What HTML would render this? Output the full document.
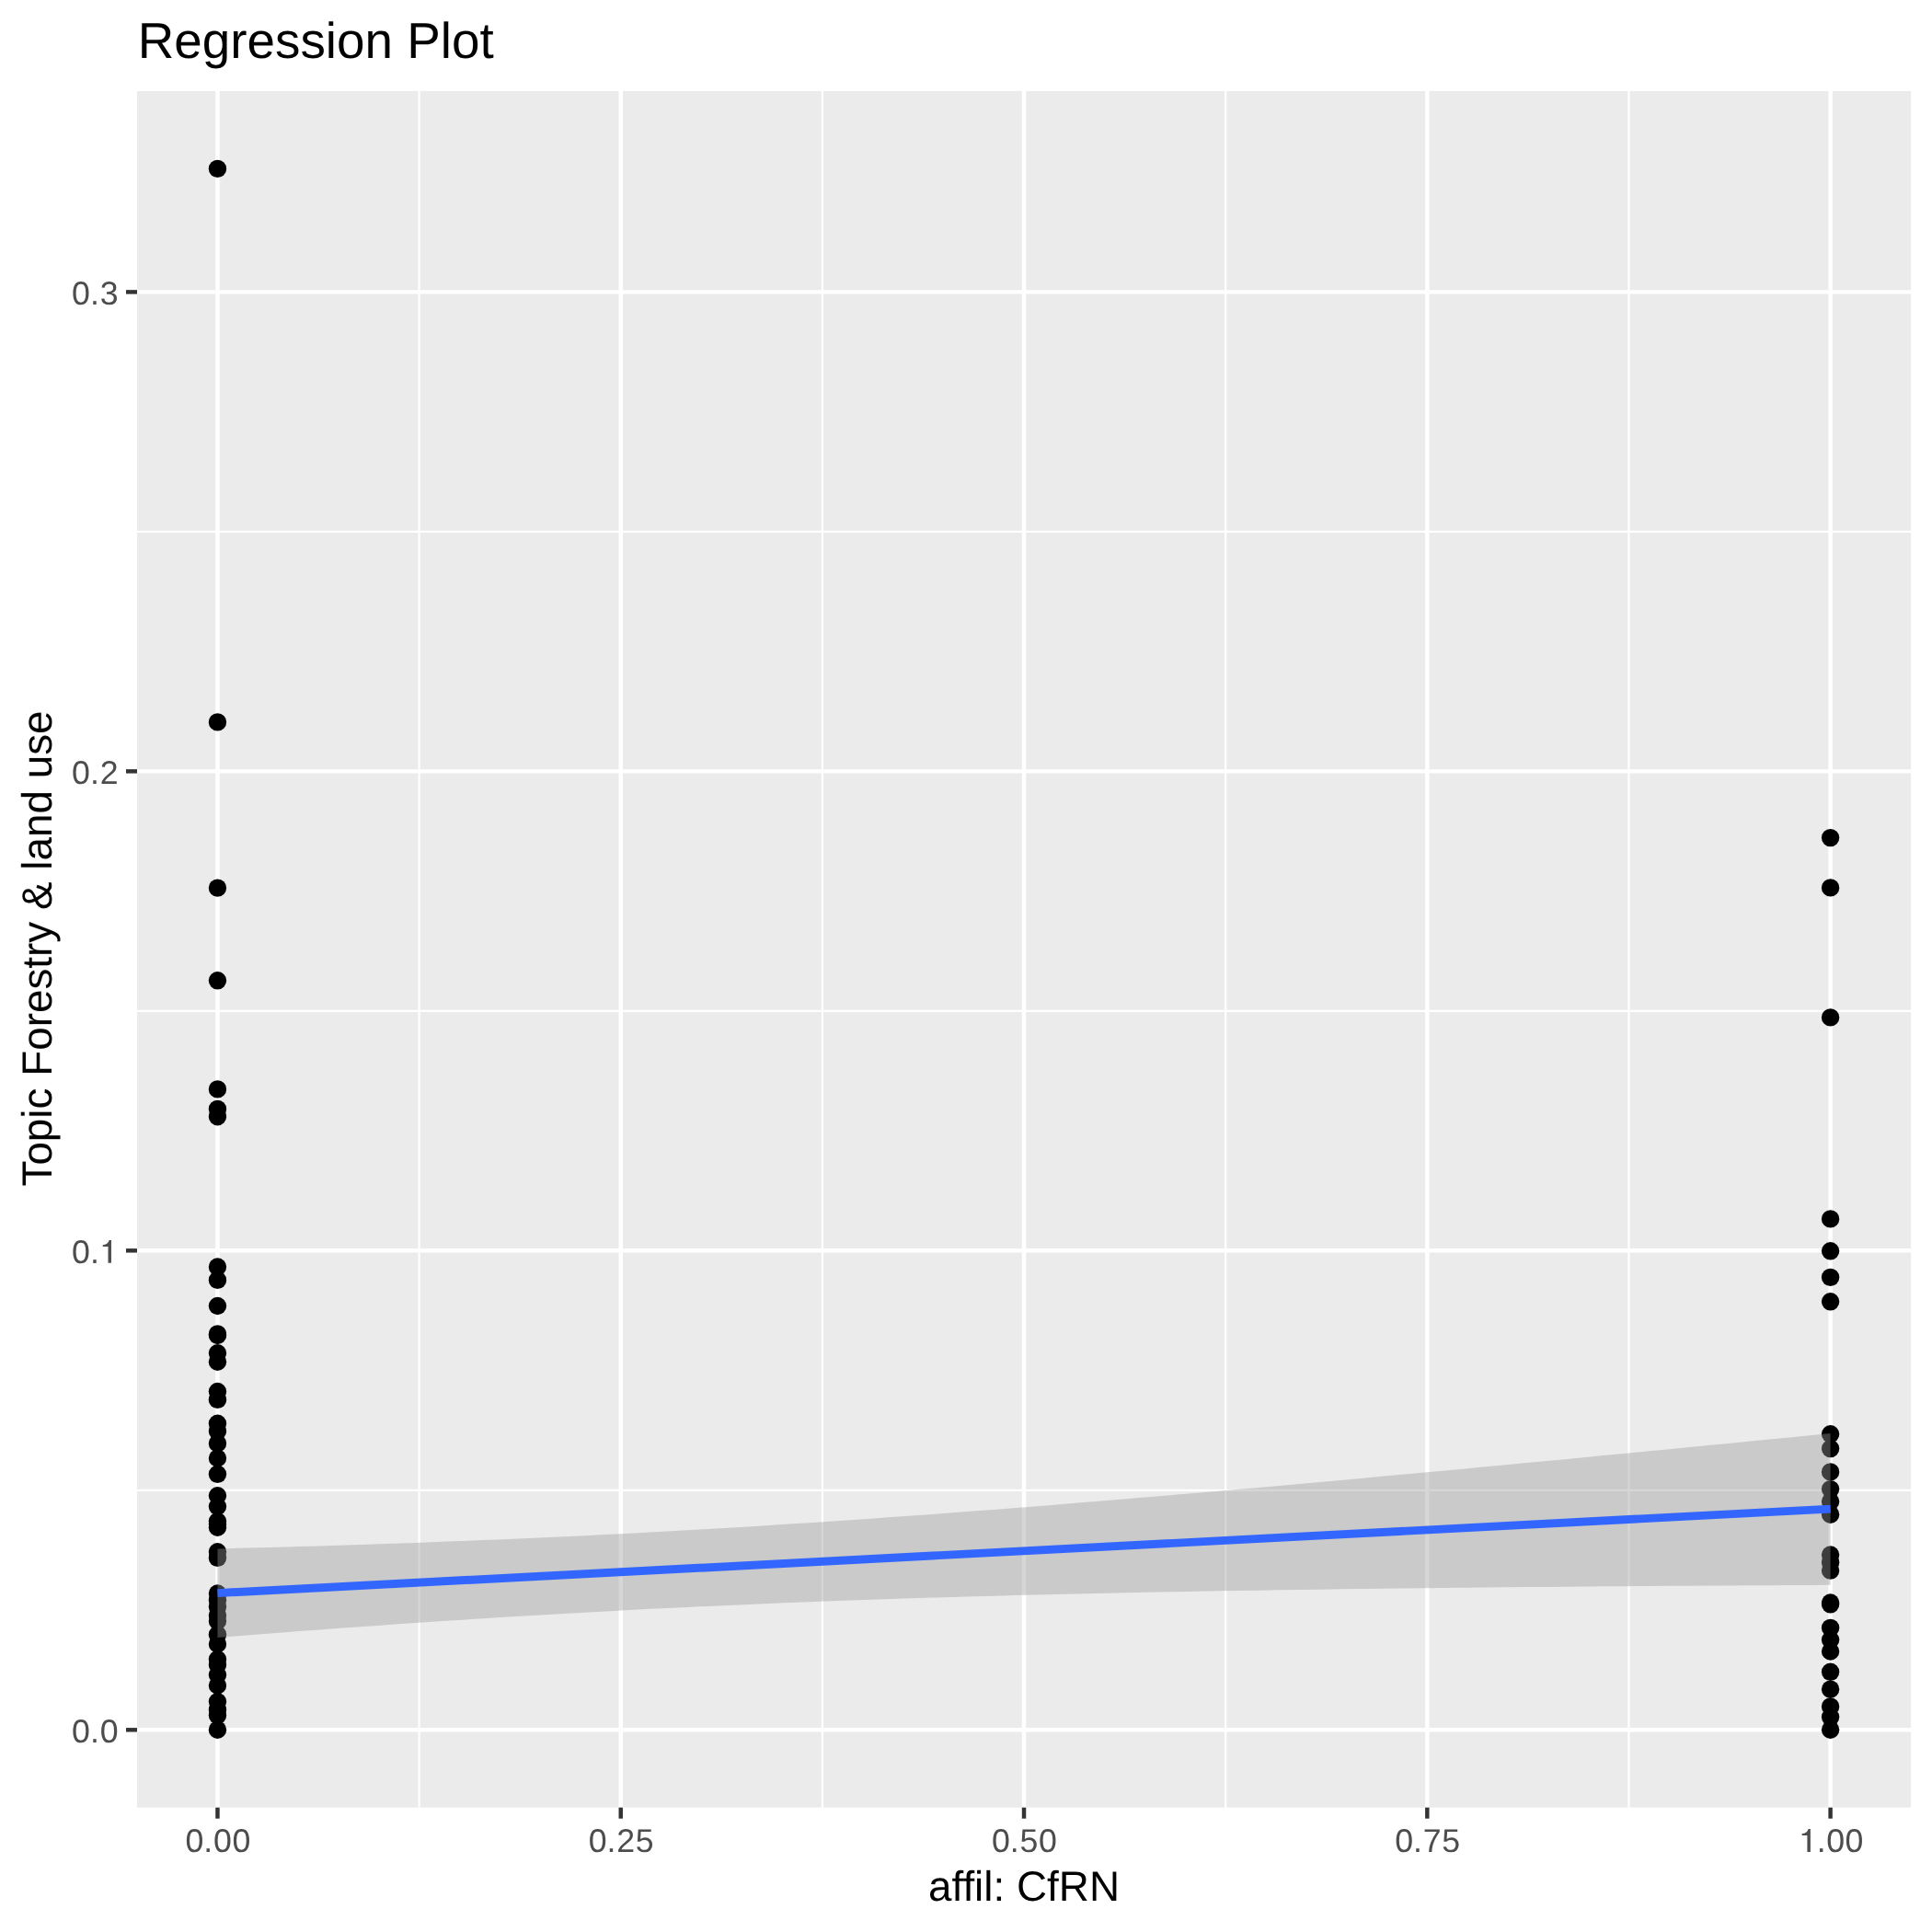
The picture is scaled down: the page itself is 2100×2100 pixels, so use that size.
<!DOCTYPE html>
<html><head><meta charset="utf-8"><title>Regression Plot</title>
<style>
html,body{margin:0;padding:0;background:#fff;}
body{width:2100px;height:2100px;overflow:hidden;}
svg{display:block;}
text{font-family:"Liberation Sans",sans-serif;text-rendering:geometricPrecision;}
.at{font-size:35.7px;fill:#4D4D4D;}
.ti{font-size:45.83px;fill:#000;}
</style></head><body>
<svg width="2100" height="2100" viewBox="0 0 2100 2100">
<rect x="0" y="0" width="2100" height="2100" fill="#FFFFFF"/>
<rect x="149.0" y="99.0" width="1928.10" height="1865.70" fill="#EBEBEB"/>
<g stroke="#FFFFFF" fill="none">
<line x1="149.0" x2="2077.1" y1="1619.82" y2="1619.82" stroke-width="2.22"/>
<line x1="149.0" x2="2077.1" y1="1098.85" y2="1098.85" stroke-width="2.22"/>
<line x1="149.0" x2="2077.1" y1="577.88" y2="577.88" stroke-width="2.22"/>
<line y1="99.0" y2="1964.7" x1="455.59" x2="455.59" stroke-width="2.22"/>
<line y1="99.0" y2="1964.7" x1="893.88" x2="893.88" stroke-width="2.22"/>
<line y1="99.0" y2="1964.7" x1="1332.17" x2="1332.17" stroke-width="2.22"/>
<line y1="99.0" y2="1964.7" x1="1770.46" x2="1770.46" stroke-width="2.22"/>
<line x1="149.0" x2="2077.1" y1="1880.30" y2="1880.30" stroke-width="4.45"/>
<line x1="149.0" x2="2077.1" y1="1359.33" y2="1359.33" stroke-width="4.45"/>
<line x1="149.0" x2="2077.1" y1="838.36" y2="838.36" stroke-width="4.45"/>
<line x1="149.0" x2="2077.1" y1="317.39" y2="317.39" stroke-width="4.45"/>
<line y1="99.0" y2="1964.7" x1="236.45" x2="236.45" stroke-width="4.45"/>
<line y1="99.0" y2="1964.7" x1="674.74" x2="674.74" stroke-width="4.45"/>
<line y1="99.0" y2="1964.7" x1="1113.02" x2="1113.02" stroke-width="4.45"/>
<line y1="99.0" y2="1964.7" x1="1551.31" x2="1551.31" stroke-width="4.45"/>
<line y1="99.0" y2="1964.7" x1="1989.60" x2="1989.60" stroke-width="4.45"/>
</g>
<g fill="#000000">
<circle cx="236.45" cy="183.4" r="9.7"/>
<circle cx="236.45" cy="784.9" r="9.7"/>
<circle cx="236.45" cy="965.1" r="9.7"/>
<circle cx="236.45" cy="1065.8" r="9.7"/>
<circle cx="236.45" cy="1183.9" r="9.7"/>
<circle cx="236.45" cy="1205.4" r="9.7"/>
<circle cx="236.45" cy="1213.7" r="9.7"/>
<circle cx="236.45" cy="1377.0" r="9.7"/>
<circle cx="236.45" cy="1391.4" r="9.7"/>
<circle cx="236.45" cy="1419.5" r="9.7"/>
<circle cx="236.45" cy="1449.9" r="9.7"/>
<circle cx="236.45" cy="1451.5" r="9.7"/>
<circle cx="236.45" cy="1470.8" r="9.7"/>
<circle cx="236.45" cy="1480.2" r="9.7"/>
<circle cx="236.45" cy="1512.5" r="9.7"/>
<circle cx="236.45" cy="1521.3" r="9.7"/>
<circle cx="236.45" cy="1547.3" r="9.7"/>
<circle cx="236.45" cy="1555.7" r="9.7"/>
<circle cx="236.45" cy="1568.9" r="9.7"/>
<circle cx="236.45" cy="1585.0" r="9.7"/>
<circle cx="236.45" cy="1602.3" r="9.7"/>
<circle cx="236.45" cy="1625.8" r="9.7"/>
<circle cx="236.45" cy="1637.5" r="9.7"/>
<circle cx="236.45" cy="1653.5" r="9.7"/>
<circle cx="236.45" cy="1656.8" r="9.7"/>
<circle cx="236.45" cy="1660.2" r="9.7"/>
<circle cx="236.45" cy="1686.8" r="9.7"/>
<circle cx="236.45" cy="1693.3" r="9.7"/>
<circle cx="236.45" cy="1732.0" r="9.7"/>
<circle cx="236.45" cy="1739.3" r="9.7"/>
<circle cx="236.45" cy="1746.6" r="9.7"/>
<circle cx="236.45" cy="1755.9" r="9.7"/>
<circle cx="236.45" cy="1762.0" r="9.7"/>
<circle cx="236.45" cy="1776.6" r="9.7"/>
<circle cx="236.45" cy="1787.0" r="9.7"/>
<circle cx="236.45" cy="1803.5" r="9.7"/>
<circle cx="236.45" cy="1809.7" r="9.7"/>
<circle cx="236.45" cy="1820.6" r="9.7"/>
<circle cx="236.45" cy="1832.0" r="9.7"/>
<circle cx="236.45" cy="1849.6" r="9.7"/>
<circle cx="236.45" cy="1858.4" r="9.7"/>
<circle cx="236.45" cy="1864.6" r="9.7"/>
<circle cx="236.45" cy="1880.2" r="9.7"/>
<circle cx="1989.60" cy="910.6" r="9.7"/>
<circle cx="1989.60" cy="964.9" r="9.7"/>
<circle cx="1989.60" cy="1105.9" r="9.7"/>
<circle cx="1989.60" cy="1324.9" r="9.7"/>
<circle cx="1989.60" cy="1359.8" r="9.7"/>
<circle cx="1989.60" cy="1388.4" r="9.7"/>
<circle cx="1989.60" cy="1414.8" r="9.7"/>
<circle cx="1989.60" cy="1558.8" r="9.7"/>
<circle cx="1989.60" cy="1574.6" r="9.7"/>
<circle cx="1989.60" cy="1599.9" r="9.7"/>
<circle cx="1989.60" cy="1618.6" r="9.7"/>
<circle cx="1989.60" cy="1632.1" r="9.7"/>
<circle cx="1989.60" cy="1646.2" r="9.7"/>
<circle cx="1989.60" cy="1690.0" r="9.7"/>
<circle cx="1989.60" cy="1698.4" r="9.7"/>
<circle cx="1989.60" cy="1707.1" r="9.7"/>
<circle cx="1989.60" cy="1742.0" r="9.7"/>
<circle cx="1989.60" cy="1743.8" r="9.7"/>
<circle cx="1989.60" cy="1769.4" r="9.7"/>
<circle cx="1989.60" cy="1782.5" r="9.7"/>
<circle cx="1989.60" cy="1795.0" r="9.7"/>
<circle cx="1989.60" cy="1817.3" r="9.7"/>
<circle cx="1989.60" cy="1836.2" r="9.7"/>
<circle cx="1989.60" cy="1854.9" r="9.7"/>
<circle cx="1989.60" cy="1866.3" r="9.7"/>
<circle cx="1989.60" cy="1880.2" r="9.7"/>
</g>
<polygon points="236.45,1683.40 258.64,1682.84 280.83,1682.27 303.03,1681.66 325.22,1681.03 347.41,1680.38 369.60,1679.70 391.79,1678.99 413.98,1678.25 436.18,1677.48 458.37,1676.69 480.56,1675.86 502.75,1675.00 524.94,1674.11 547.13,1673.18 569.33,1672.22 591.52,1671.23 613.71,1670.20 635.90,1669.14 658.09,1668.05 680.29,1666.92 702.48,1665.75 724.67,1664.55 746.86,1663.31 769.05,1662.04 791.24,1660.74 813.44,1659.40 835.63,1658.02 857.82,1656.62 880.01,1655.18 902.20,1653.71 924.39,1652.21 946.59,1650.67 968.78,1649.11 990.97,1647.52 1013.16,1645.90 1035.35,1644.26 1057.55,1642.58 1079.74,1640.89 1101.93,1639.16 1124.12,1637.42 1146.31,1635.65 1168.50,1633.86 1190.70,1632.04 1212.89,1630.21 1235.08,1628.36 1257.27,1626.49 1279.46,1624.60 1301.66,1622.69 1323.85,1620.77 1346.04,1618.83 1368.23,1616.88 1390.42,1614.91 1412.61,1612.93 1434.81,1610.93 1457.00,1608.92 1479.19,1606.90 1501.38,1604.87 1523.57,1602.83 1545.76,1600.77 1567.96,1598.71 1590.15,1596.63 1612.34,1594.55 1634.53,1592.46 1656.72,1590.35 1678.92,1588.24 1701.11,1586.13 1723.30,1584.00 1745.49,1581.87 1767.68,1579.73 1789.87,1577.58 1812.07,1575.43 1834.26,1573.27 1856.45,1571.10 1878.64,1568.93 1900.83,1566.76 1923.02,1564.57 1945.22,1562.39 1967.41,1560.20 1989.60,1558.00 1989.60,1722.80 1967.41,1722.91 1945.22,1723.03 1923.02,1723.16 1900.83,1723.29 1878.64,1723.42 1856.45,1723.56 1834.26,1723.71 1812.07,1723.86 1789.87,1724.02 1767.68,1724.19 1745.49,1724.36 1723.30,1724.54 1701.11,1724.72 1678.92,1724.92 1656.72,1725.12 1634.53,1725.33 1612.34,1725.55 1590.15,1725.77 1567.96,1726.01 1545.76,1726.26 1523.57,1726.51 1501.38,1726.78 1479.19,1727.06 1457.00,1727.35 1434.81,1727.65 1412.61,1727.97 1390.42,1728.30 1368.23,1728.64 1346.04,1729.00 1323.85,1729.37 1301.66,1729.76 1279.46,1730.16 1257.27,1730.59 1235.08,1731.03 1212.89,1731.49 1190.70,1731.97 1168.50,1732.46 1146.31,1732.98 1124.12,1733.53 1101.93,1734.09 1079.74,1734.68 1057.55,1735.29 1035.35,1735.93 1013.16,1736.60 990.97,1737.29 968.78,1738.01 946.59,1738.76 924.39,1739.54 902.20,1740.35 880.01,1741.19 857.82,1742.06 835.63,1742.97 813.44,1743.91 791.24,1744.88 769.05,1745.88 746.86,1746.93 724.67,1748.00 702.48,1749.11 680.29,1750.26 658.09,1751.44 635.90,1752.65 613.71,1753.90 591.52,1755.19 569.33,1756.51 547.13,1757.86 524.94,1759.25 502.75,1760.66 480.56,1762.12 458.37,1763.60 436.18,1765.11 413.98,1766.66 391.79,1768.23 369.60,1769.83 347.41,1771.46 325.22,1773.12 303.03,1774.80 280.83,1776.51 258.64,1778.24 236.45,1780.00" fill="#999999" fill-opacity="0.4"/>
<line x1="236.45" y1="1731.6" x2="1989.60" y2="1640.1" stroke="#3366FF" stroke-width="8.9"/>
<g stroke="#333333" stroke-width="4.45">
<line x1="137.00" x2="149.0" y1="1880.30" y2="1880.30"/>
<line x1="137.00" x2="149.0" y1="1359.33" y2="1359.33"/>
<line x1="137.00" x2="149.0" y1="838.36" y2="838.36"/>
<line x1="137.00" x2="149.0" y1="317.39" y2="317.39"/>
<line y1="1964.7" y2="1976.70" x1="236.45" x2="236.45"/>
<line y1="1964.7" y2="1976.70" x1="674.74" x2="674.74"/>
<line y1="1964.7" y2="1976.70" x1="1113.02" x2="1113.02"/>
<line y1="1964.7" y2="1976.70" x1="1551.31" x2="1551.31"/>
<line y1="1964.7" y2="1976.70" x1="1989.60" x2="1989.60"/>
</g>
<g opacity="0.999">
<text class="at" x="78.08 97.92 108.66" y="1893.80">0.0</text>
<path d="M12.95,-24.9 L12.95,0 L9.5,0 L9.5,-17.9 L3.7,-17.9 L3.7,-19.65 C7.5,-20.0 9.6,-21.5 10.7,-24.9 Z" fill="#4D4D4D" transform="translate(108.01,1372.83)"/>
<text class="at" x="78.08 97.92" y="1372.83">0.</text>
<text class="at" x="78.08 97.92 108.66" y="851.86">0.2</text>
<text class="at" x="78.08 97.92 108.66" y="330.89">0.3</text>
<text class="at" x="201.42 221.26 232.00 252.39" y="2012.90">0.00</text>
<text class="at" x="639.71 659.55 670.29 690.68" y="2012.90">0.25</text>
<text class="at" x="1078.00 1097.83 1108.58 1128.97" y="2012.90">0.50</text>
<text class="at" x="1516.28 1536.12 1546.87 1567.25" y="2012.90">0.75</text>
<path d="M12.95,-24.9 L12.95,0 L9.5,0 L9.5,-17.9 L3.7,-17.9 L3.7,-19.65 C7.5,-20.0 9.6,-21.5 10.7,-24.9 Z" fill="#4D4D4D" transform="translate(1954.92,2012.90)"/>
<text class="at" x="1974.81 1985.15 2005.54" y="2012.90">.00</text>
<text class="ti" text-anchor="middle" x="1113" y="2066">affil: CfRN</text>
<text class="ti" text-anchor="middle" transform="translate(56,1031.05) rotate(-90)">Topic Forestry &amp; land use</text>
<text x="149.8" y="63" font-size="54.8" fill="#000">Regression Plot</text>
</g>
</svg></body></html>
